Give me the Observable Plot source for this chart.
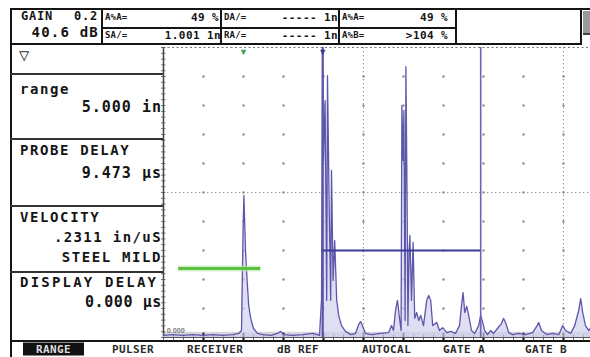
<!DOCTYPE html>
<html><head><meta charset="utf-8">
<script src="https://cdn.jsdelivr.net/npm/d3@7"></script>
<script src="https://cdn.jsdelivr.net/npm/@observablehq/plot@0.6"></script>
<style>
body{margin:0;background:#fff;}
#wrap{position:relative;width:590px;height:357px;overflow:hidden;background:#fff;font-family:"DejaVu Sans Mono",monospace;font-weight:bold;color:#151515;}
#wrap svg{position:absolute;left:0;top:0;}
.t{position:absolute;white-space:nowrap;line-height:1;transform:translateY(-50%);}
.ln{position:absolute;background:#151515;}
</style></head><body><div id="wrap"></div>
<script>
// A-scan waveform: x in screen divisions, amplitude in % full screen height
const waveX = [0.00,0.23,0.48,0.73,0.98,1.23,1.48,1.73,1.88,1.95,1.99,2.01,2.05,2.09,2.13,2.18,2.25,2.35,2.48,2.68,2.85,2.93,3.00,3.23,3.48,3.73,3.90,3.95,3.98,4.00,4.04,4.08,4.10,4.14,4.18,4.20,4.24,4.28,4.33,4.38,4.45,4.55,4.68,4.80,4.88,4.93,4.98,5.05,5.18,5.43,5.63,5.70,5.75,5.80,5.85,5.90,5.94,5.96,5.99,6.01,6.04,6.06,6.09,6.11,6.14,6.16,6.20,6.24,6.28,6.33,6.38,6.43,6.50,6.58,6.63,6.68,6.73,6.83,6.90,6.98,7.08,7.18,7.30,7.40,7.45,7.49,7.53,7.58,7.63,7.70,7.78,7.88,7.93,7.98,8.03,8.10,8.18,8.25,8.35,8.45,8.50,8.55,8.63,8.73,8.88,9.05,9.23,9.33,9.38,9.45,9.58,9.73,9.88,9.93,9.98,10.05,10.18,10.28,10.38,10.43,10.48,10.55,10.63,10.68];
const waveY = [0.7,1.0,0.7,1.0,0.7,1.0,0.7,1.0,1.4,2.4,36.9,49.0,30.0,19.7,11.0,6.6,3.1,1.4,1.0,0.7,1.4,2.1,1.0,0.7,1.0,1.4,0.7,12.8,100,61.0,81.7,12.8,90.3,47.2,12.8,57.6,19.7,33.4,12.8,7.6,4.1,2.1,1.0,1.4,4.5,5.5,3.8,1.4,1.0,1.4,1.7,4.1,2.4,9.3,12.8,6.6,2.4,80.0,61.0,78.3,5.9,93.4,47.2,4.1,30.0,35.2,12.8,32.8,6.6,8.6,5.9,7.6,4.1,12.8,14.5,12.8,4.1,5.2,2.4,3.4,1.7,2.1,1.4,4.1,11.0,15.5,8.6,10.7,7.6,2.4,1.4,4.1,7.6,5.2,2.4,1.0,2.4,1.4,3.1,4.8,6.6,5.2,1.7,1.0,1.4,1.0,1.7,3.8,5.2,2.4,1.0,1.4,1.0,2.4,4.1,2.4,1.4,4.1,9.3,13.4,8.6,4.1,2.4,3.4];

// Gates
const gateA = {start: 3.98, end: 7.93, level: 30};
const gateB = {start: 0.38, end: 2.43, level: 23.8};
const markerGreenX = 2.0;
const markerBlueX = 3.98;

// Grid
const gridX = [1,2,3,4,5,6,7,8,9,10];
const gridY = [10,20,30,40,50,60,70,80,90];
const dottedX = [5,10];
const dottedY = [50];
const xMax = 10.675;

// Header / panel / menu text
const headerLeft = [{t:"GAIN", x:21, cy:16, s:12, a:"l", ls:0.8},{t:"0.2", x:98, cy:16, s:12, a:"r", ls:0.8},{t:"40.6 dB", x:99, cy:32, s:14, a:"r", ls:1.2}];
const cellLabels = [["A%A=",105,17],["SA/=",105,35],["DA/=",224,17],["RA/=",224,35],["A%A=",342,17],["A%B=",342,35]];
const cellValues = [["49 %",219,17],["1.001 1n",221,35],["----- 1n",338,17],["----- 1n",338,35],["49 %",448,17],[">104 %",448,35]];
const panelItems = [["range","l",20,89,14,1.6],["5.000 in","r",162,107,15,1],["PROBE DELAY","l",20,150,14,1.6],["9.473 µs","r",162,173,15,1],["VELOCITY","l",20,217,14,1.6],[".2311 in/uS","r",162,237,14,1.4],["STEEL MILD","r",162,257,14,1.6],["DISPLAY DELAY","l",20,282,14,2.2],["0.000 µs","r",162,302,15,0.6]];
const menuItems = [["PULSER",112],["RECEIVER",187],["dB REF",277],["AUTOCAL",362],["GATE A",443],["GATE B",525]];

const wave = waveX.map((x,i)=>({x, y: waveY[i]}));
const gridPts = gridX.flatMap(x => gridY.map(y => ({x, y})));

const chart = Plot.plot({
  width: 590, height: 357,
  marginLeft: 163, marginRight: 0, marginTop: 47, marginBottom: 20,
  x: {domain: [0, xMax], axis: null},
  y: {domain: [0, 100], axis: null},
  style: {background: "transparent"},
  marks: [
    Plot.rect([{}], {x1: 0, x2: xMax, y1: 0, y2: 1.8, fill: "#d6d6dc"}),
    Plot.ruleX(dottedX, {stroke: "#9a8c8c", strokeWidth: 1.2, strokeDasharray: "1.3,2.7"}),
    Plot.ruleY(dottedY, {stroke: "#9a8c8c", strokeWidth: 1.2, strokeDasharray: "1.3,2.7"}),
    Plot.dot(gridPts, {x: "x", y: "y", r: 1.2, fill: "#9c8a88"}),
    Plot.ruleY([100], {stroke: "#777", strokeWidth: 1.2, strokeDasharray: "2,2.5"}),
    Plot.ruleY(d3.range(0, 101, 2), {x1: -0.05, x2: 0.06, stroke: "#555", strokeWidth: 0.8}),
    Plot.ruleX(d3.range(0, xMax, 0.25), {y1: -0.9, y2: 0.8, stroke: "#333", strokeWidth: 0.9}),
    Plot.ruleX(gridX, {y1: -1.2, y2: 1.5, stroke: "#111", strokeWidth: 2}),
    Plot.ruleX([0], {stroke: "#444", strokeWidth: 1.5}),
    Plot.ruleY([0], {stroke: "#555", strokeWidth: 1}),
    Plot.text(["0.000"], {x: 0.08, y: 2.2, text: d => d, textAnchor: "start", fontSize: 7, fill: "#888"}),
    Plot.areaY(wave, {x: "x", y: "y", fill: "#d2d0ec", fillOpacity: 0.7}),
    Plot.ruleX([markerBlueX], {stroke: "#5a56aa", strokeWidth: 2.2}),
    Plot.lineY(wave, {x: "x", y: "y", stroke: "#5d57ac", strokeWidth: 1.3}),
    Plot.ruleX([gateA.end], {stroke: "#6a66b8", strokeWidth: 1.6}),
    Plot.ruleY([gateA.level], {x1: gateA.start, x2: gateA.end, stroke: "#3f3b98", strokeWidth: 2}),
    Plot.ruleY([gateB.level], {x1: gateB.start, x2: gateB.end, stroke: "#b8e6a8", strokeWidth: 6, strokeOpacity: 0.6}),
    Plot.ruleY([gateB.level], {x1: gateB.start, x2: gateB.end, stroke: "#5cc040", strokeWidth: 3}),
    Plot.text([markerGreenX], {x: d => d, y: 98.4, text: () => "▼", fill: "#3aa05a", fontSize: 9}),
    Plot.text([markerBlueX], {x: d => d, y: 98.4, text: () => "▼", fill: "#3a3690", fontSize: 9})
  ]
});
const wrap = document.getElementById("wrap");
wrap.appendChild(chart);

function txt(t, x, cy, size, anchor, opts = {}) {
  const d = document.createElement("div");
  d.className = "t";
  d.textContent = t;
  d.style.fontSize = size + "px";
  d.style.top = cy + "px";
  if (anchor === "r") d.style.right = (590 - x) + "px"; else d.style.left = x + "px";
  if (opts.ls !== undefined) d.style.letterSpacing = opts.ls + "px";
  if (opts.color) d.style.color = opts.color;
  if (opts.bg) d.style.background = opts.bg;
  if (opts.pad) d.style.padding = opts.pad;
  wrap.appendChild(d);
  return d;
}
function line(x, y, w, h, color) {
  const d = document.createElement("div");
  d.className = "ln";
  Object.assign(d.style, {left: x + "px", top: y + "px", width: w + "px", height: h + "px"});
  if (color) d.style.background = color;
  wrap.appendChild(d);
}

// header frame
line(10, 8, 580, 2);
line(10, 43, 572, 2);
line(10, 8, 2, 349);
line(101, 8, 2, 37);
line(220, 8, 1.5, 37);
line(338, 8, 2, 37);
line(455, 8, 2, 37);
line(580, 8, 1.5, 37);
line(102, 27, 354, 1.5);
line(583, 11, 7, 22, "#9a9a9a");
line(583, 33, 7, 1.5, "#444");
// left panel separators
[73, 138, 205, 271].forEach(y => line(10, y, 153, 1.5, "#333"));
line(10, 340, 580, 2);

headerLeft.forEach(h => txt(h.t, h.x, h.cy, h.s, h.a, {ls: h.ls}));
cellLabels.forEach(([t,x,cy]) => txt(t, x, cy, 9, "l", {ls: 0.2}));
cellValues.forEach(([t,x,cy]) => txt(t, x, cy, 11, "r", {ls: 0.4}));
txt("▽", 19, 55, 17, "l", {color: "#333"});
panelItems.forEach(([t,a,x,cy,s,ls]) => txt(t, x, cy, s, a, {ls}));

// menu
txt("RANGE", 23, 348.5, 11, "l", {ls: 0.4, color: "#ddd", bg: "#111", pad: "1px 13px"});
menuItems.forEach(([t,x]) => txt(t, x, 348.5, 11, "l", {ls: 0.4, color: "#2a2a2a"}));
</script></body></html>
